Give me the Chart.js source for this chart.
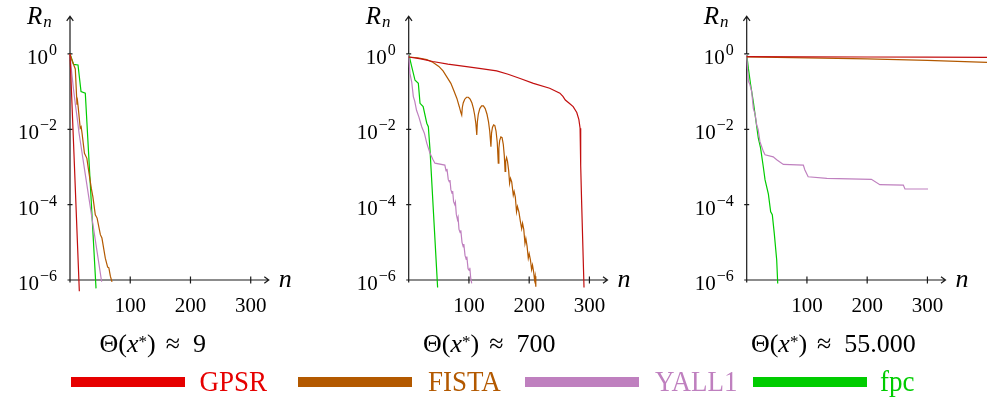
<!DOCTYPE html>
<html>
<head>
<meta charset="utf-8">
<script src="https://cdn.jsdelivr.net/npm/chart.js@4.4.1/dist/chart.umd.min.js"></script>
<style>
  html, body { margin: 0; padding: 0; background: #fff; }
  #wrap { position: relative; width: 987px; height: 403px; overflow: hidden; font-family: "Liberation Serif", serif; color: #000; }
  canvas { position: absolute; left: 0; top: 0; }
  .title { position: absolute; top: 331px; font-size: 26px; line-height: 26px; white-space: nowrap; transform: translateX(-50%); }
  .title i { font-style: italic; }
  .title .st { font-size: 17px; position: relative; top: -5px; }
  .title .ap { margin: 0 13px 0 10px; }
  .swatch { position: absolute; top: 377px; height: 10px; }
  .ltext { position: absolute; top: 369px; font-size: 27px; line-height: 27px; white-space: nowrap; transform-origin: 0 22.6px; transform: scaleY(1.1); }
</style>
</head>
<body>
<div id="wrap">
  <canvas id="p1" width="987" height="403"></canvas>
  <canvas id="p2" width="987" height="403"></canvas>
  <canvas id="p3" width="987" height="403"></canvas>
  <div id="titles"></div>
  <div id="legend"></div>
</div>
<script>
// axis ticks and labels
const xTicks = [100, 200, 300];
const yTicks = [1e-6, 1e-4, 1e-2, 1];
const yTickExp = ['\u22126', '\u22124', '\u22122', '0'];
const seriesNames = ['GPSR', 'FISTA', 'YALL1', 'fpc'];
const seriesColors = ['#c20f0f', '#b35900', '#bf80bf', '#00cc00'];
const legendColors = ['#e60000', '#b35900', '#bf80bf', '#00cc00'];
const thetaValues = ['9', '700', '55.000'];

// panel 1: Θ(x*) ≈ 9
const p1GpsrN = [0, 7, 15.5];
const p1GpsrR = [1, 1.5e-3, 5e-7];
const p1FistaN = [0, 4, 8.8, 11.6, 12.5, 13.5, 17, 18.5, 20, 24, 28, 31, 35.4, 38, 42, 45, 50.4, 53, 58.6, 62.5, 64.5, 67, 69.7];
const p1FistaR = [1, 0.63, 0.4, 0.045, 0.056, 0.04, 0.0107, 0.0117, 0.0079, 2.3e-3, 1.7e-3, 7.9e-4, 2.7e-4, 1.6e-4, 5.4e-5, 4.4e-5, 1.6e-5, 1.3e-5, 3.8e-6, 2.2e-6, 2.1e-6, 1.26e-6, 8.9e-7];
const p1YallN = [0, 3, 6, 9, 12.7, 15, 25, 35, 45, 52.5];
const p1YallR = [1, 0.3, 0.11, 0.045, 0.016, 8e-3, 7e-4, 6.3e-5, 5.6e-6, 9e-7];
const p1FpcN = [0, 6, 13.3, 18.3, 25.4, 43.2];
const p1FpcR = [1, 0.53, 0.51, 0.1, 0.091, 6e-7];

// panel 2: Θ(x*) ≈ 700
const p2GpsrN = [0, 20, 40, 65, 96, 120, 146, 165, 185, 207, 234, 251, 256, 260, 266, 273, 279, 282.5, 284.5, 285.5, 287, 291];
const p2GpsrR = [0.83, 0.74, 0.63, 0.54, 0.46, 0.41, 0.355, 0.29, 0.224, 0.166, 0.123, 0.091, 0.075, 0.06, 0.05, 0.04, 0.028, 0.018, 0.0107, 1.1e-3, 1.26e-4, 6.3e-7];
const p2FistaN = [0, 15, 30, 40, 50, 57, 63, 70, 75, 80, 84, 86.5, 88,
    89, 90.5, 93, 96, 99, 102, 105, 107.5, 109.5, 111.5, 113,
    114, 115.5, 118, 121, 124, 127, 130, 132.5, 134.5, 136.5,
    137.5, 139, 141, 143, 145, 147, 148.7,
    149.7, 151, 153, 155, 157, 158.7, 160,
    161, 162.5, 164, 166, 167.5,
    169, 171, 173.6, 175, 177, 179, 180.5, 183, 185.5, 187.5, 189, 191, 193, 194.5, 196.5, 198.5, 200, 202, 204, 205.5, 207.5, 209, 210, 211];
const p2FistaR = [0.832, 0.794, 0.708, 0.603, 0.468, 0.355, 0.251, 0.166, 0.105, 0.066, 0.0398, 0.0282, 0.024,
    0.038, 0.05, 0.063, 0.071, 0.071, 0.063, 0.05, 0.0355, 0.024, 0.0141, 0.0071,
    0.0158, 0.0251, 0.0355, 0.0417, 0.0417, 0.0355, 0.0251, 0.0158, 0.0089, 0.00347,
    0.0079, 0.0112, 0.0132, 0.0126, 0.0089, 0.00447, 0.00126,
    0.00316, 0.005, 0.0063, 0.006, 0.004, 0.002, 0.00076,
    0.00141, 0.00178, 0.00141, 0.00079, 0.00037,
    5e-4, 4e-4, 1.78e-4, 2.24e-4, 1.58e-4, 6.5e-5, 8.9e-5, 6.3e-5, 3.5e-5, 2.3e-5, 3.2e-5, 2.2e-5, 9.3e-6, 1.26e-5, 7.9e-6, 3.8e-6, 5e-6, 3.5e-6, 1.9e-6, 2.5e-6, 1.6e-6, 1e-6, 1.26e-6, 6.6e-7];
const p2YallN = [0, 2, 5, 7.7, 10, 13, 17, 21.6, 26, 30, 35.4, 40, 43.6,
    60, 62, 63.5, 65.7, 67.5, 68.5, 70, 72, 73, 74.5, 76.5, 77.5, 79, 81, 82, 83.5, 85.5, 86.5,
    88.5, 90.6, 91.5, 93.5, 95.5, 96.5, 98.5, 100.5, 101.5, 103, 104.6];
const p2YallR = [1, 0.31, 0.18, 0.074, 0.056, 0.032, 0.021, 0.0117, 7.9e-3, 4.3e-3, 2.3e-3, 1.6e-3, 1.26e-3,
    1.12e-3, 7.9e-4, 8.9e-4, 4.6e-4, 4e-4, 4.5e-4, 2.5e-4, 2e-4, 2.3e-4, 1.2e-4, 1e-4, 1.15e-4, 5.6e-5, 4e-5, 4.6e-5, 2.2e-5, 1.8e-5, 2.1e-5,
    1e-5, 7.6e-6, 9e-6, 4.5e-6, 3.5e-6, 4.2e-6, 2e-6, 1.8e-6, 2.1e-6, 1.1e-6, 8.1e-7];
const p2FpcN = [0, 5, 10.5, 16, 18.8, 24, 30, 32.6, 35.4, 48];
const p2FpcR = [1, 0.46, 0.2, 0.166, 0.049, 0.04, 0.0145, 0.0117, 2.8e-3, 6.3e-7];

// panel 3: Θ(x*) ≈ 55.000
const p3GpsrN = [0, 100, 200, 300, 400];
const p3GpsrR = [0.85, 0.84, 0.83, 0.82, 0.81];
const p3FistaN = [0, 100, 200, 300, 400];
const p3FistaR = [0.83, 0.79, 0.74, 0.68, 0.6];
const p3YallN = [0, 1, 2.7, 5, 8.3, 11, 14, 16.6, 19, 22, 27.6, 30.4, 44, 49.8, 60.8, 94, 96.6, 102, 133, 207, 221, 260, 262.7, 301];
const p3YallR = [1, 0.5, 0.19, 0.16, 0.1, 0.036, 0.025, 0.013, 0.01, 4.7e-3, 2.6e-3, 2.1e-3, 1.86e-3, 1.55e-3, 1.17e-3, 1.12e-3, 8.3e-4, 5.5e-4, 5e-4, 4.7e-4, 3.4e-4, 3.3e-4, 2.6e-4, 2.6e-4];
const p3FpcN = [0, 2.7, 6.6, 11, 15.5, 19.3, 23, 27.6, 30.4, 36, 39.8, 42.5, 45.8, 49.8, 51.5];
const p3FpcR = [1, 0.42, 0.15, 0.054, 0.016, 5.8e-3, 3.2e-3, 1e-3, 4.6e-4, 1.9e-4, 6.5e-5, 5.4e-5, 1.7e-5, 3.4e-6, 8.1e-7];

const W = 987, H = 403;
const xMax = 330;
const plotWidth = 198.8;
const panelLeft = [70, 408.7, 746.7];
const titleCenter = [152.8, 489.3, 833.4];

// axes with arrow tips, pgfplots style
const arrowAxes = {
    id: 'arrowAxes',
    beforeDatasetsDraw(chart) {
        const { ctx, chartArea } = chart;
        const xs = chart.scales.x, ys = chart.scales.y;
        const x0 = xs.getPixelForValue(0);
        const yb = ys.getPixelForValue(yTicks[0]);
        const xr = chartArea.right, yt = chartArea.top;

        ctx.save();
        ctx.strokeStyle = '#1a1a1a';
        ctx.lineWidth = 1.2;
        ctx.beginPath();
        ctx.moveTo(x0, yb + 2.5); ctx.lineTo(x0, yt);
        ctx.moveTo(x0 - 3.3, yt + 4.5); ctx.lineTo(x0, yt); ctx.lineTo(x0 + 3.3, yt + 4.5);
        ctx.moveTo(x0 - 2.5, yb); ctx.lineTo(xr, yb);
        ctx.moveTo(xr - 4.5, yb - 3.3); ctx.lineTo(xr, yb); ctx.lineTo(xr - 4.5, yb + 3.3);
        xTicks.forEach(v => {
            const px = xs.getPixelForValue(v);
            ctx.moveTo(px, yb - 3.5); ctx.lineTo(px, yb + 3.5);
        });
        yTicks.forEach(v => {
            const py = ys.getPixelForValue(v);
            ctx.moveTo(x0 - 2.5, py); ctx.lineTo(x0 + 2.5, py);
        });
        ctx.stroke();

        ctx.fillStyle = '#000';
        ctx.textBaseline = 'alphabetic';

        // x tick labels
        ctx.font = "21px 'Liberation Serif'";
        ctx.textAlign = 'center';
        xTicks.forEach(v => ctx.fillText(String(v), xs.getPixelForValue(v), yb + 32));

        // y tick labels 10^k
        ctx.textAlign = 'right';
        yTicks.forEach((v, i) => {
            const py = ys.getPixelForValue(v);
            const right = x0 - 13;
            ctx.font = "16px 'Liberation Serif'";
            const ew = ctx.measureText(yTickExp[i]).width;
            ctx.fillText(yTickExp[i], right, py + 1);
            ctx.font = "21px 'Liberation Serif'";
            ctx.fillText('10', right - ew - 1, py + 10);
        });

        // axis names
        ctx.textAlign = 'left';
        ctx.font = "italic 25px 'Liberation Serif'";
        ctx.fillText('R', x0 - 43, 23.5);
        const rw = ctx.measureText('R').width;
        ctx.font = "italic 17px 'Liberation Serif'";
        ctx.fillText('n', x0 - 43 + rw + 1, 27);
        ctx.font = "italic 26px 'Liberation Serif'";
        ctx.fillText('n', xr + 10, yb + 6.7);
        ctx.restore();
    }
};

function toPoints(ns, rs) {
    return ns.map((n, i) => ({ x: n, y: rs[i] }));
}

function makePanel(canvasId, left, series) {
    return new Chart(document.getElementById(canvasId), {
        type: 'line',
        data: {
            datasets: series.map((s, i) => ({
                label: seriesNames[i],
                data: toPoints(s[0], s[1]),
                borderColor: seriesColors[i],
                borderWidth: 1.2,
                pointRadius: 0,
                tension: 0,
                fill: false,
                clip: false
            }))
        },
        options: {
            responsive: false,
            animation: false,
            events: [],
            layout: {
                padding: { left: left, right: W - left - plotWidth, top: 16.3, bottom: H - 280 }
            },
            plugins: {
                legend: { display: false },
                tooltip: { enabled: false }
            },
            scales: {
                x: { type: 'linear', min: 0, max: xMax, display: false },
                y: { type: 'logarithmic', min: 1e-6, max: 10, display: false }
            }
        },
        plugins: [arrowAxes]
    });
}

makePanel('p1', panelLeft[0], [[p1GpsrN, p1GpsrR], [p1FistaN, p1FistaR], [p1YallN, p1YallR], [p1FpcN, p1FpcR]]);
makePanel('p2', panelLeft[1], [[p2GpsrN, p2GpsrR], [p2FistaN, p2FistaR], [p2YallN, p2YallR], [p2FpcN, p2FpcR]]);
makePanel('p3', panelLeft[2], [[p3GpsrN, p3GpsrR], [p3FistaN, p3FistaR], [p3YallN, p3YallR], [p3FpcN, p3FpcR]]);

// panel captions
const titles = document.getElementById('titles');
thetaValues.forEach((v, i) => {
    const d = document.createElement('div');
    d.className = 'title';
    d.style.left = titleCenter[i] + 'px';
    d.innerHTML = '\u0398(<i>x</i><span class="st">*</span>)<span class="ap">\u2248</span>' + v;
    titles.appendChild(d);
});

// legend row
const swatchLeft = [71, 298, 525, 753];
const swatchWidth = 114;
const textLeft = [199.5, 428, 655, 880];
const legend = document.getElementById('legend');
seriesNames.forEach((name, i) => {
    const sw = document.createElement('div');
    sw.className = 'swatch';
    sw.style.left = swatchLeft[i] + 'px';
    sw.style.width = swatchWidth + 'px';
    sw.style.background = legendColors[i];
    legend.appendChild(sw);
    const t = document.createElement('div');
    t.className = 'ltext';
    t.style.left = textLeft[i] + 'px';
    t.style.color = legendColors[i];
    t.textContent = name;
    legend.appendChild(t);
});
</script>
</body>
</html>
